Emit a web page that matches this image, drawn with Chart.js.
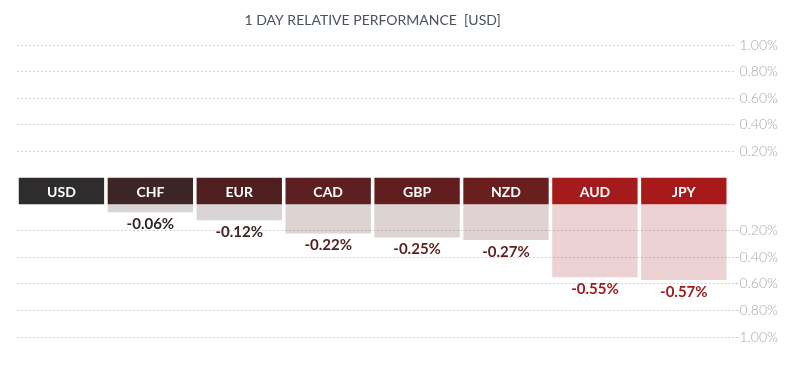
<!DOCTYPE html>
<html>
<head>
<meta charset="utf-8">
<script src="https://cdn.jsdelivr.net/npm/chart.js@4"></script>
<style>
  html, body { margin: 0; padding: 0; background: #fff; }
  #wrap { width: 800px; height: 378px; }
</style>
</head>
<body>
<div id="wrap"><canvas id="perf"></canvas></div>
<script>
const categories = ['USD', 'CHF', 'EUR', 'CAD', 'GBP', 'NZD', 'AUD', 'JPY'];
const changes = [null, -0.06, -0.12, -0.22, -0.25, -0.27, -0.55, -0.57]; // % vs USD
const tickValues = [1.0, 0.8, 0.6, 0.4, 0.2, -0.2, -0.4, -0.6, -0.8, -1.0];

const headerColors = ['#2e2c2c', '#3e2525', '#4f1f1f', '#5d1f1f', '#621e1e', '#6a1f1f', '#a51a1a', '#a81a1a'];
const barColors = ['#ffffff', '#d9d5d5', '#dbd4d4', '#ddd3d3', '#ddd3d3', '#dfd2d2', '#ecd2d2', '#ecd2d2'];
const labelColors = ['#2e2c2c', '#2f2525', '#3e2222', '#4e1f1f', '#5a1e1e', '#5f1d1d', '#a01a1a', '#a01a1a'];

// the currency band sits between 0 and -BAND on the axis, negatives are shifted below it
const BAND = 0.2;
const shift = v => (v < 0 ? v - BAND : v);
const unshift = v => (v < -BAND / 2 ? v + BAND : v);

const title = '1 DAY RELATIVE PERFORMANCE  [USD]';

const labelsPlugin = {
  id: 'bandLabels',
  afterDraw(chart) {
    const ctx = chart.ctx;
    const y = chart.scales.y;
    const area = chart.chartArea;
    ctx.save();
    // title
    ctx.font = '14px Lato';
    ctx.fillStyle = '#4a525c';
    ctx.textAlign = 'center';
    ctx.textBaseline = 'middle';
    ctx.fillText(title, (area.left + area.right) / 2, 20);

    // currency names in the band
    const heads = chart.getDatasetMeta(0).data;
    ctx.font = 'bold 14px Lato';
    ctx.fillStyle = '#ffffff';
    const bandMid = (y.getPixelForValue(0) + y.getPixelForValue(-BAND)) / 2;
    heads.forEach((bar, i) => {
      ctx.fillText(categories[i], bar.x, bandMid + 1);
    });

    // value labels under bars
    ctx.font = 'bold 15px Lato';
    changes.forEach((v, i) => {
      if (v == null) return;
      ctx.fillStyle = labelColors[i];
      ctx.fillText(v.toFixed(2) + '%', heads[i].x, y.getPixelForValue(shift(v)) + 12);
    });
    ctx.restore();
  }
};

new Chart(document.getElementById('perf'), {
  type: 'bar',
  data: {
    labels: categories,
    datasets: [
      {
        label: 'band',
        data: categories.map(() => [0, -BAND]),
        backgroundColor: headerColors,
        grouped: false,
        barPercentage: 0.96,
        categoryPercentage: 1
      },
      {
        label: 'change',
        data: changes.map(v => (v == null ? null : [-BAND, shift(v)])),
        backgroundColor: barColors,
        grouped: false,
        barPercentage: 0.96,
        categoryPercentage: 1
      }
    ]
  },
  options: {
    responsive: true,
    maintainAspectRatio: false,
    animation: false,
    layout: { padding: { left: 17, right: 22, top: 45, bottom: 41 } },
    plugins: {
      legend: { display: false },
      title: { display: false },
      tooltip: { enabled: false }
    },
    scales: {
      x: { display: false },
      y: {
        position: 'right',
        min: -1.0 - BAND,
        max: 1.0,
        afterBuildTicks: scale => {
          scale.ticks = tickValues.map(v => ({ value: shift(v) }));
        },
        border: { display: false, dash: [2, 2] },
        grid: {
          z: 1,
          color: 'rgba(0,0,0,0.17)',
          tickBorderDash: [2, 2],
          tickColor: 'rgba(0,0,0,0.17)',
          tickLength: 6
        },
        ticks: {
          padding: 0,
          crossAlign: 'far',
          color: '#a8a8a8',
          font: { family: 'Lato', size: 14, weight: 300 },
          callback: v => unshift(v).toFixed(2) + '%'
        }
      }
    }
  },
  plugins: [labelsPlugin]
});
</script>
</body>
</html>
